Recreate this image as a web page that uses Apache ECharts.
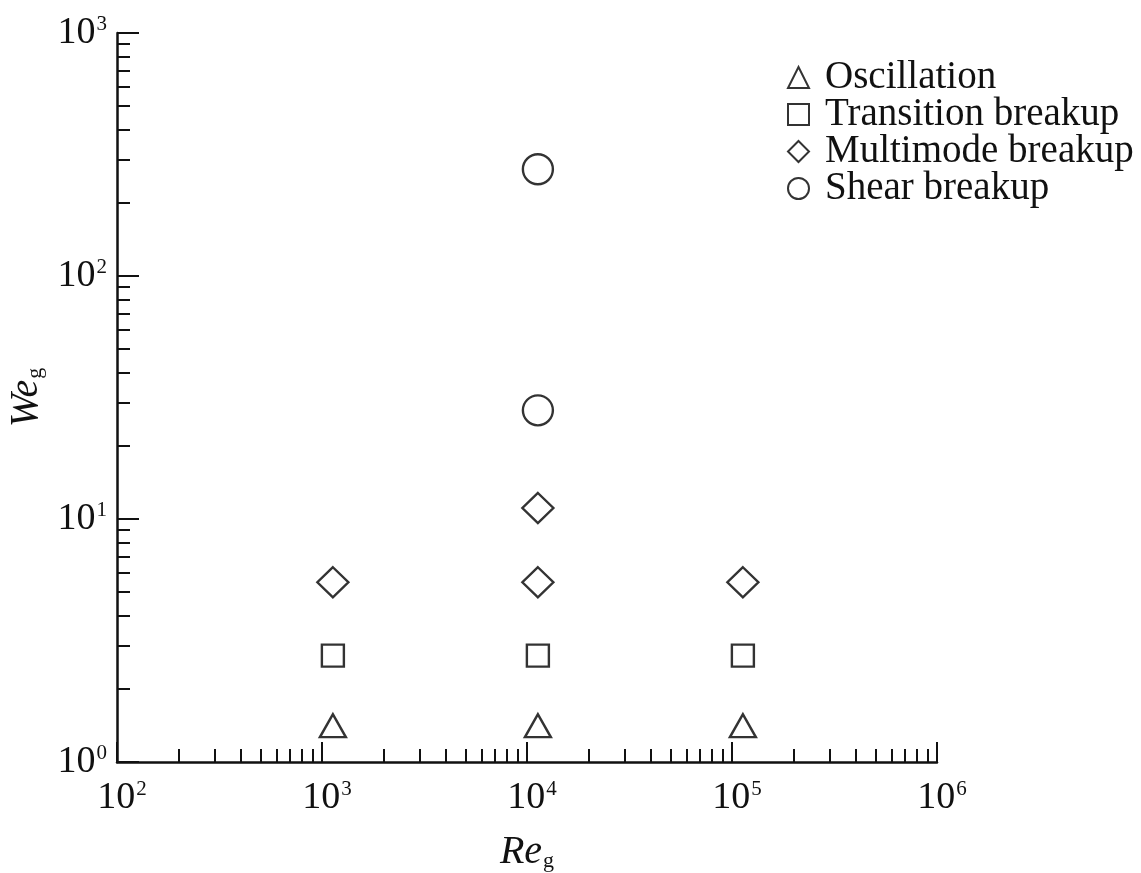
<!DOCTYPE html>
<html><head><meta charset="utf-8">
<script src="https://cdn.jsdelivr.net/npm/echarts@6/dist/echarts.min.js"></script>
<style>html,body{margin:0;padding:0;background:#fff}#c{width:1141px;height:873px}</style>
</head><body><div id="c"></div>
<script>
// ---- data ----
const xMajorTicks = [100, 1000, 10000, 100000, 1000000];
const yMajorTicks = [1, 10, 100, 1000];
const minorMultipliers = [2, 3, 4, 5, 6, 7, 8, 9];
const seriesNames = ['Oscillation', 'Transition breakup', 'Multimode breakup', 'Shear breakup'];
const oscillationRe = [1130, 11300, 113000];
const oscillationWe = [1.41, 1.41, 1.41];
const transitionRe = [1130, 11300, 113000];
const transitionWe = [2.74, 2.74, 2.74];
const multimodeRe = [1130, 11300, 11300, 113000];
const multimodeWe = [5.49, 5.49, 11.1, 5.49];
const shearRe = [11300, 11300];
const shearWe = [28, 275];

function minorsOf(majors) {
  const out = [];
  for (let i = 0; i < majors.length - 1; i++) {
    minorMultipliers.forEach(m => out.push(majors[i] * m));
  }
  return out;
}
const xMinorTicks = minorsOf(xMajorTicks);
const yMinorTicks = minorsOf(yMajorTicks);
const pairs = (xs, ys) => xs.map((x, i) => [x, ys[i]]);

const INK = '#111';
const FONT = 'Liberation Serif';
const labelRich = {
  b: { fontFamily: FONT, fontSize: 38, color: INK },
  s: { fontFamily: FONT, fontSize: 21, color: INK, verticalAlign: 'top', padding: [0, 0, 0, 1] }
};
const expFmt = v => '{b|10}{s|' + Math.round(Math.log10(v)) + '}';

const markerStyle = { color: '#fff', borderColor: '#000', borderWidth: 2.4 };
const symbols = ['triangle', 'rect', 'diamond', 'circle'];
const sizes = [[26, 23], 22, [31, 30], 30];
const dataSets = [
  pairs(oscillationRe, oscillationWe),
  pairs(transitionRe, transitionWe),
  pairs(multimodeRe, multimodeWe),
  pairs(shearRe, shearWe)
];

const chart = echarts.init(document.getElementById('c'), null, { renderer: 'canvas' });
chart.setOption({
  backgroundColor: '#fff',
  animation: false,
  grid: { left: 117, right: 204, top: 33, bottom: 111, containLabel: false, outerBoundsMode: 'none' },
  legend: {
    orient: 'vertical', left: 782, top: 53, itemWidth: 21, itemHeight: 21, itemGap: -2,
    selectedMode: false,
    textStyle: { fontFamily: FONT, fontSize: 39, color: INK, padding: [0, 0, 0, 11] },
    data: seriesNames.map((n, i) => ({ name: n, icon: symbols[i], itemStyle: { color: '#fff', borderColor: '#000', borderWidth: 2 } }))
  },
  xAxis: [
    {
      type: 'log', logBase: 10, min: 100, max: 1000000, position: 'bottom',
      axisLine: { show: true, onZero: false, lineStyle: { color: INK, width: 2.5 } },
      axisTick: { show: true, inside: true, length: 20, customValues: xMajorTicks, lineStyle: { color: INK, width: 2 } },
      axisLabel: { customValues: xMajorTicks, formatter: expFmt, margin: 17, rich: labelRich, padding: [0, 0, 0, 10] },
      splitLine: { show: false }, minorTick: { show: false },
      name: '{i|Re}{g|g}', nameLocation: 'middle', nameGap: 70,
      nameTextStyle: { rich: {
        i: { fontFamily: FONT, fontStyle: 'italic', fontSize: 40, color: INK },
        g: { fontFamily: FONT, fontSize: 22, color: INK, verticalAlign: 'bottom', padding: [14, 0, 0, 1] }
      } }
    },
    {
      type: 'log', logBase: 10, min: 100, max: 1000000, position: 'bottom', gridIndex: 0,
      axisLine: { show: false, onZero: false },
      axisTick: { show: true, inside: true, length: 13, customValues: xMinorTicks, lineStyle: { color: INK, width: 2 } },
      axisLabel: { show: false }, splitLine: { show: false }
    }
  ],
  yAxis: [
    {
      type: 'log', logBase: 10, min: 1, max: 1000, position: 'left',
      axisLine: { show: true, onZero: false, lineStyle: { color: INK, width: 2.5 } },
      axisTick: { show: true, inside: true, length: 22, customValues: yMajorTicks, lineStyle: { color: INK, width: 2 } },
      axisLabel: { customValues: yMajorTicks, formatter: expFmt, margin: 10, rich: labelRich },
      splitLine: { show: false }, minorTick: { show: false },
      name: '{i|We}{g|g}', nameLocation: 'middle', nameGap: 71, nameRotate: 90,
      nameTextStyle: { rich: {
        i: { fontFamily: FONT, fontStyle: 'italic', fontSize: 40, color: INK },
        g: { fontFamily: FONT, fontSize: 22, color: INK, verticalAlign: 'bottom', padding: [14, 0, 0, 1] }
      } }
    },
    {
      type: 'log', logBase: 10, min: 1, max: 1000, position: 'left', gridIndex: 0,
      axisLine: { show: false, onZero: false },
      axisTick: { show: true, inside: true, length: 13, customValues: yMinorTicks, lineStyle: { color: INK, width: 2 } },
      axisLabel: { show: false }, splitLine: { show: false }
    }
  ],
  series: seriesNames.map((n, i) => ({
    name: n, type: 'scatter', xAxisIndex: 0, yAxisIndex: 0,
    symbol: symbols[i], symbolSize: sizes[i], itemStyle: markerStyle,
    data: dataSets[i], z: 5
  }))
});
</script></body></html>
